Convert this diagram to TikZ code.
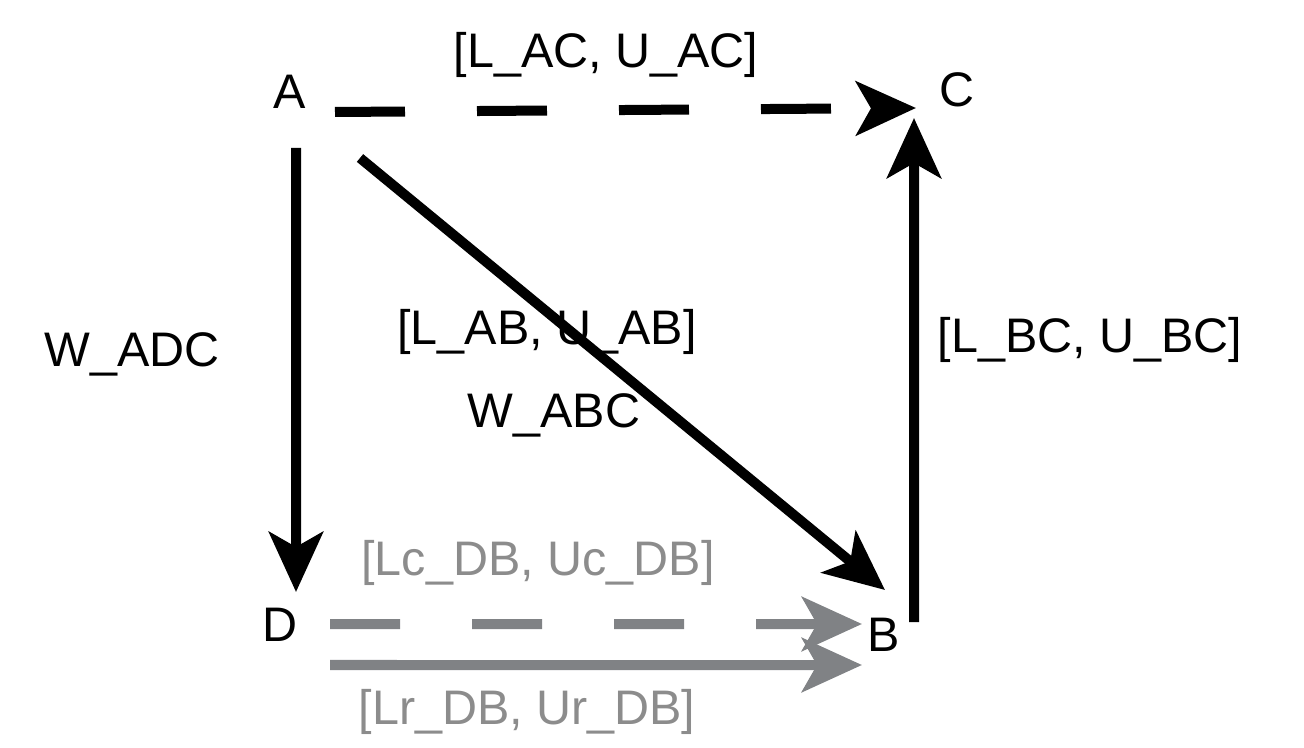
\documentclass[tikz,border=0pt]{standalone}
\usepackage{fontspec}
\setmainfont{Liberation Sans}
\definecolor{boundgray}{RGB}{128, 130, 133}
\definecolor{labelgray}{RGB}{140, 140, 140}
\usetikzlibrary{arrows.meta}

\tikzset{
    vertex/.style={font=\fontsize{13.8}{16}\selectfont, inner sep=0pt},
    bound/.style={font=\fontsize{13.8}{16}\selectfont, inner sep=0pt},
    link/.style={line width=0.1cm, -{Stealth[length=0.6cm, width=0.54cm, inset=0.15cm]}},
    gaps/.style={dash pattern=on 0.7cm off 0.72cm}
}

\begin{document}
\begin{tikzpicture}
    \useasboundingbox (0,0) rectangle (13.04,-7.48);

    % vertices
    \node[vertex] (A) at (2.90,-0.92) {A};
    \node[vertex] (C) at (9.57,-0.90) {C};
    \node[vertex] (D) at (2.80,-6.25) {D};
    \node[vertex] (B) at (8.84,-6.35) {B};

    % edges between vertices
    \draw[link, gaps] ([shift={(0.45,-0.20)}]A.center) -- ([shift={(-0.41,-0.18)}]C.center);
    \draw[link] ([shift={(0.06,-0.56)}]A.center) -- ([shift={(0.16,0.33)}]D.center);
    \draw[link] ([shift={(0.70,-0.66)}]A.center) -- ([shift={(0.01,0.45)}]B.center);
    \draw[link] ([shift={(0.30,0.13)}]B.center) -- ([shift={(-0.43,-0.28)}]C.center);

    % the two D-B edges
    \draw[link, gaps, boundgray] ([shift={(0.50,0.01)}]D.center) -- ([shift={(-0.22,0.11)}]B.center);
    \draw[link, boundgray] ([shift={(0.50,-0.40)}]D.center) -- ([shift={(-0.22,-0.30)}]B.center);

    % interval and weight labels
    \node[bound] (lac) at (6.06,-0.55) {[L\_AC, U\_AC]};
    \node[bound] (lab) at (5.47,-3.32) {[L\_AB, U\_AB]};
    \node[bound] (wabc) at (5.54,-4.15) {W\_ABC};
    \node[bound] (wadc) at (1.32,-3.54) {W\_ADC};
    \node[bound] (lbc) at (10.90,-3.40) {[L\_BC, U\_BC]};
    \node[bound, labelgray] (lcdb) at (5.38,-5.63) {[Lc\_DB, Uc\_DB]};
    \node[bound, labelgray] (lrdb) at (5.27,-7.12) {[Lr\_DB, Ur\_DB]};
\end{tikzpicture}
\end{document}
